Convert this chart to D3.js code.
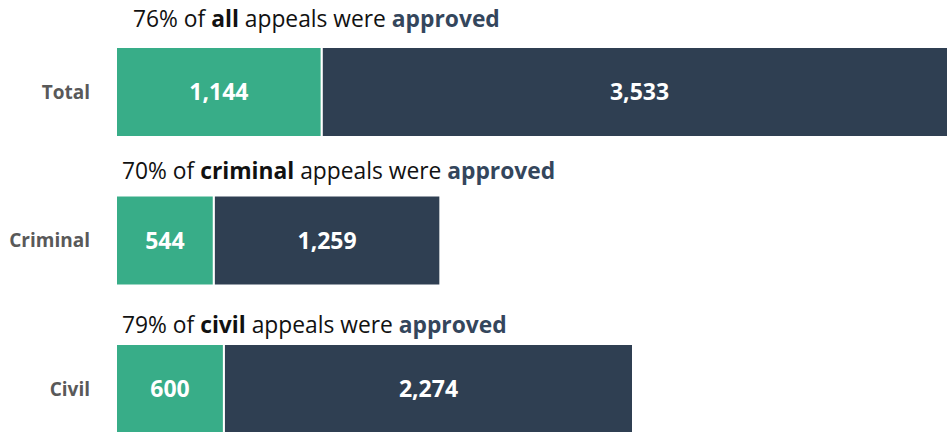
<!DOCTYPE html>
<html>
<head>
<meta charset="utf-8">
<script src="https://cdn.jsdelivr.net/npm/d3@7"></script>
<style>
  body { margin: 0; background: #fff; }
  svg { display: block; font-family: "Open Sans", sans-serif; }
  .catLabel { fill: #595959; font-weight: bold; font-size: 19px; }
  .valLabel { fill: #fff; font-weight: bold; font-size: 23px; }
  .title { fill: #111; font-size: 22.8px; }
</style>
</head>
<body>
<div id="chart"></div>
<script>
// data
const categories = ["Total", "Criminal", "Civil"];
const approved = [1144, 544, 600];
const denied = [3533, 1259, 2274];
const pctLabels = ["76%", "70%", "79%"];
const typeWords = ["all", "criminal", "civil"];

const width = 947, height = 432;
const colors = {approved: "#38ad88", denied: "#2f3f52", accent: "#34465c"};

// layout
const barX0 = 116;
const barTops = [47, 195.5, 344];
const barH = 90;
const titleX = [133, 122, 122];
const titleY = [27, 179, 333];

const svg = d3.select("#chart").append("svg")
  .attr("width", width).attr("height", height);

const x = d3.scaleLinear().domain([0, 2874]).range([barX0, 633]);
const fmt = d3.format(",");

const rows = categories.map((c, i) => ({
  cat: c, approved: approved[i], denied: denied[i],
  pct: pctLabels[i], word: typeWords[i], i: i
}));

const rowG = svg.selectAll("g.row")
  .data(rows)
  .enter()
  .append("g")
  .attr("class", "row");

// segments
rowG.append("rect")
  .attr("x", d => x(0))
  .attr("y", d => barTops[d.i])
  .attr("width", d => x(d.approved) - x(0))
  .attr("height", barH)
  .attr("fill", colors.approved)
  .attr("stroke", "#fff").attr("stroke-width", 2);

rowG.append("rect")
  .attr("x", d => x(d.approved))
  .attr("y", d => barTops[d.i])
  .attr("width", d => x(d.approved + d.denied) - x(d.approved))
  .attr("height", barH)
  .attr("fill", colors.denied)
  .attr("stroke", "#fff").attr("stroke-width", 2);

// value labels
rowG.append("text")
  .attr("class", "valLabel")
  .attr("x", d => (x(0) + x(d.approved)) / 2)
  .attr("y", d => barTops[d.i] + barH / 2)
  .attr("dy", "0.35em")
  .attr("text-anchor", "middle")
  .text(d => fmt(d.approved));

rowG.append("text")
  .attr("class", "valLabel")
  .attr("x", d => (x(d.approved) + x(d.approved + d.denied)) / 2)
  .attr("y", d => barTops[d.i] + barH / 2)
  .attr("dy", "0.35em")
  .attr("text-anchor", "middle")
  .text(d => fmt(d.denied));

// category labels
rowG.append("text")
  .attr("class", "catLabel")
  .attr("x", 90)
  .attr("y", d => barTops[d.i] + barH / 2)
  .attr("dy", "0.35em")
  .attr("text-anchor", "end")
  .text(d => d.cat);

// titles
const title = rowG.append("text")
  .attr("class", "title")
  .attr("x", d => titleX[d.i])
  .attr("y", d => titleY[d.i]);
title.append("tspan").text(d => d.pct + " of ");
title.append("tspan").attr("font-weight", "bold").text(d => d.word);
title.append("tspan").text(" appeals were ");
title.append("tspan").attr("font-weight", "bold").attr("fill", colors.accent).text("approved");
</script>
</body>
</html>
